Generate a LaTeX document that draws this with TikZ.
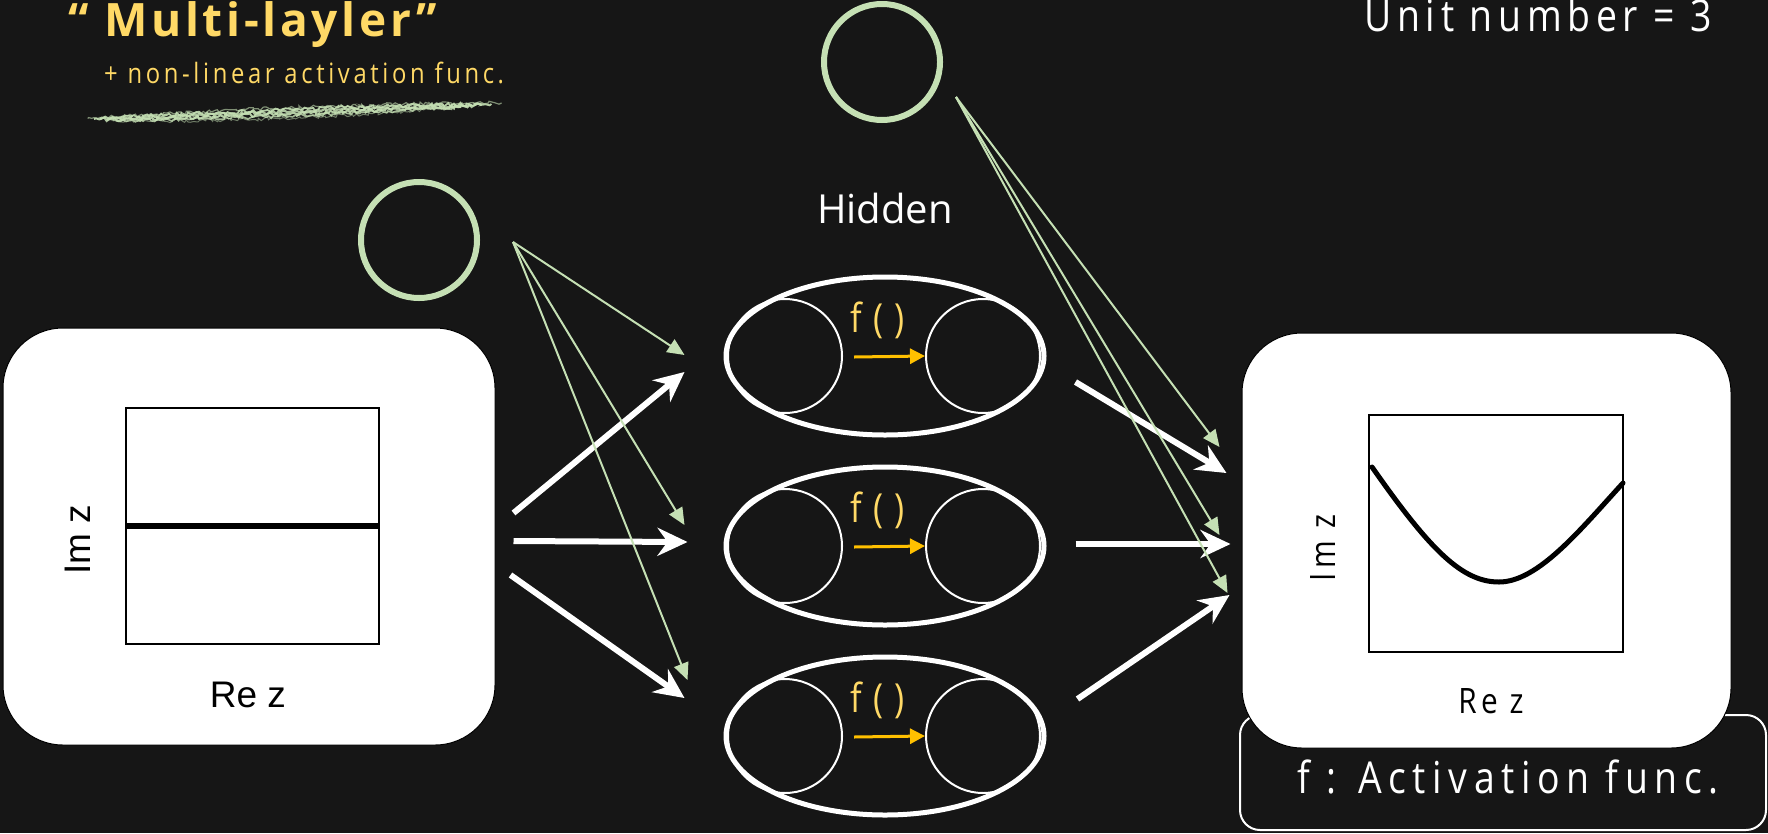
\documentclass[tikz,border=0pt]{standalone}
\usepackage{fontspec}
\setmainfont{Open Sans}
\newfontfamily\mfont[FakeStretch=0.85]{Open Sans}
\newfontfamily\arialfont{Liberation Sans}
\usetikzlibrary{shapes.geometric,arrows.meta,decorations.pathmorphing,calc}
\definecolor{board}{RGB}{22,22,22}
\definecolor{chalkgreen}{RGB}{197,224,180}
\definecolor{ttyellow}{RGB}{255,217,102}
\definecolor{arrowyellow}{RGB}{255,192,0}
\tikzset{
  wbox/.style={draw=black, line width=1pt, fill=white, rounded corners=60pt, inner sep=0pt},
  ellnode/.style={ellipse, draw=white, line width=5pt, minimum width=318pt, minimum height=158pt, inner sep=0pt},
  innercirc/.style={circle, draw=white, line width=2pt, minimum size=114pt, inner sep=0pt},
  biasnode/.style={circle, draw=chalkgreen, line width=6pt, minimum size=116pt, inner sep=0pt},
  warrow/.style={draw=white, line width=6pt, -{Stealth[length=30pt,width=28pt,inset=10pt]}},
  garrow/.style={draw=chalkgreen, line width=2pt, -{Triangle[length=17pt,width=15pt]}},
  yarrow/.style={draw=arrowyellow, line width=3pt, -{Triangle[length=15pt,width=15pt]}},
  ftext/.style={text=ttyellow, font=\mfont\fontsize{40}{44}\selectfont\addfontfeature{LetterSpace=28}, anchor=base, inner sep=0pt},
  plotbox/.style={draw=black, line width=2pt, inner sep=0pt},
  chalk/.style={chalkgreen, decorate, decoration={random steps, segment length=2.5pt, amplitude=1.8pt}},
}
\begin{document}
\begin{tikzpicture}[x=1pt,y=-1pt]
\useasboundingbox (0,0) rectangle (1768,833);
\clip (0,0) rectangle (1768,833);
\fill[board] (0,0) rectangle (1768,833);

% title
\node[anchor=base west, inner sep=0pt, text=ttyellow,
      font=\bfseries\fontsize{46}{50}\selectfont\addfontfeature{LetterSpace=8}] (title) at (68,36) {“ Multi-layler”};
\node[anchor=base west, inner sep=0pt, text=ttyellow,
      font=\mfont\fontsize{28}{32}\selectfont\addfontfeature{LetterSpace=13}] (subtitle) at (104,83) {+ non-linear activation func.};
\pgfmathsetseed{7}
\foreach \dy/\w/\op in {0/1.8/0.9, 2.5/2.2/0.85, 5/2.0/0.9, 7.5/1.6/0.8, -2.5/1.2/0.6, 10/1.0/0.5}{
  \draw[chalk, line width=\w pt, opacity=\op] (94+\dy*2.5,119+\dy*0.2) .. controls (220,112+\dy) and (360,106+\dy) .. (491-\dy*4,104+\dy*0.4);
}

\node[anchor=base east, inner sep=0pt, text=white,
      font=\mfont\fontsize{44}{48}\selectfont\addfontfeature{LetterSpace=13}] (unitnum) at (1712,31) {Unit number = 3};

% bias units
\node[biasnode] (b1) at (419,240) {};
\node[biasnode] (b2) at (882,62) {};

% hidden label
\node[anchor=base, inner sep=0pt, text=white, font=\fontsize{40}{44}\selectfont] (hidlabel) at (885,223) {Hidden};

% input box
\node[wbox, minimum width=492pt, minimum height=417pt] (inbox) at (249,536.5) {};
\node[plotbox, minimum width=253pt, minimum height=236pt] (inplot) at (252.5,526) {};
\draw[line width=6pt] (inplot.west) -- (inplot.east);
\node[rotate=90, inner sep=0pt, font=\arialfont\fontsize{37}{40}\selectfont] (inim) at (78,540) {Im z};
\node[anchor=base, inner sep=0pt, font=\arialfont\fontsize{37}{40}\selectfont] (inre) at (248,707) {Re z};

% activation box and output box
\node[draw=white, line width=2pt, rounded corners=20pt, minimum width=526pt, minimum height=115pt, inner sep=0pt] (actbox) at (1503,772.5) {};
\node[wbox, minimum width=489pt, minimum height=415pt] (outbox) at (1486.5,540.5) {};
\node[plotbox, minimum width=254pt, minimum height=237pt] (outplot) at (1496,533.5) {};
\draw[line width=5pt, line cap=round] (1372,467) .. controls (1430,550) and (1462,582) .. (1499,582) .. controls (1538,582) and (1580,530) .. (1623,483);
\node[rotate=90, inner sep=0pt, font=\mfont\fontsize{35}{40}\selectfont\addfontfeature{LetterSpace=12}] (outim) at (1323,548) {Im z};
\node[anchor=base, inner sep=0pt, font=\mfont\fontsize{35}{40}\selectfont\addfontfeature{LetterSpace=12}] (outre) at (1491,713) {Re z};
\node[anchor=base, inner sep=0pt, text=white,
      font=\mfont\fontsize{44}{48}\selectfont\addfontfeature{LetterSpace=15}] (acttext) at (1508,793) {f : Activation func.};

% hidden units
\foreach \i/\y in {1/356, 2/546, 3/736}{
  \node[ellnode] (h\i) at (885,\y) {};
  \node[innercirc] (h\i a) at (785,\y) {};
  \node[innercirc] (h\i b) at (983,\y) {};
  \node[ftext] (f\i) at (878,\y-24) {f()};
  \draw[yarrow] ($(h\i a.east)+(11,1)$) -- (h\i b.west);
}

% white arrows input -> hidden
\draw[warrow] ($(inbox.east)+(18,-23.5)$) -- ($(h1.west)+(-39,16)$);
\draw[warrow] ($(inbox.east)+(18,4.5)$) -- ($(h2.west)+(-36,-4)$);
\draw[warrow] ($(inbox.east)+(15,38.5)$) -- ($(h3.west)+(-39,-38)$);
% white arrows hidden -> output
\draw[warrow] ($(h1.east)+(29,26)$) -- ($(outbox.west)+(-15,-67.5)$);
\draw[warrow] ($(h2.east)+(29,-2)$) -- ($(outbox.west)+(-11,3.5)$);
\draw[warrow] ($(h3.east)+(31,-37)$) -- ($(outbox.west)+(-12,54.5)$);

% green bias arrows
\coordinate (s1) at ($(b1.east)+(33,2)$);
\coordinate (s2) at ($(b2.east)+(13,35)$);
\draw[garrow] (s1) -- ($(h1.west)+(-39,-1)$);
\draw[garrow] (s1) -- ($(h2.west)+(-39,-21)$);
\draw[garrow] (s1) -- ($(h3.west)+(-36,-56)$);
\draw[garrow] (s2) -- ($(outbox.west)+(-22,-93.5)$);
\draw[garrow] (s2) -- ($(outbox.west)+(-22,-5.5)$);
\draw[garrow] (s2) -- ($(outbox.west)+(-14,52.5)$);
\end{tikzpicture}
\end{document}
